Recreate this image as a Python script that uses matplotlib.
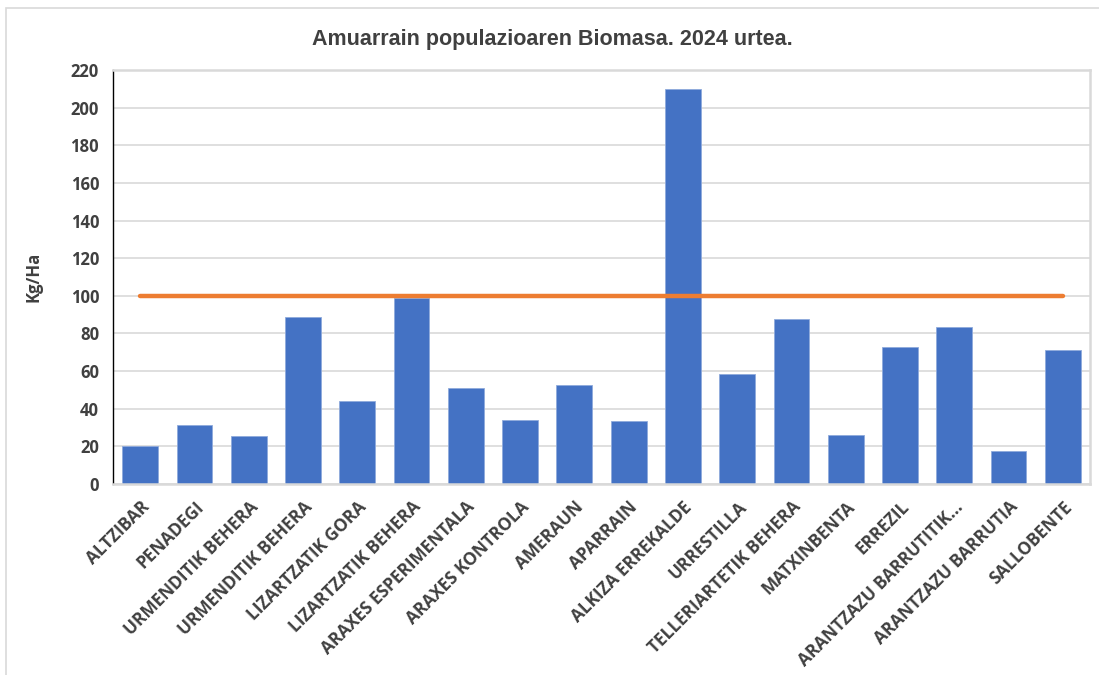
"""
Trout population biomass per sampling site, 2024 (Kg/Ha) with 100 Kg/Ha reference line.
"""

import matplotlib

matplotlib.use("Agg")
import matplotlib.pyplot as plt
from matplotlib.patches import Rectangle
import numpy as np


SITES = [
    "ALTZIBAR", "PENADEGI", "URMENDITIK BEHERA", "URMENDITIK BEHERA",
    "LIZARTZATIK GORA", "LIZARTZATIK BEHERA", "ARAXES ESPERIMENTALA",
    "ARAXES KONTROLA", "AMERAUN", "APARRAIN", "ALKIZA ERREKALDE",
    "URRESTILLA", "TELLERIARTETIK BEHERA", "MATXINBENTA", "ERREZIL",
    "ARANTZAZU BARRUTITIK...", "ARANTZAZU BARRUTIA", "SALLOBENTE",
]
BIOMASS = [20, 31.5, 25.5, 89, 44, 99, 51, 34, 52.6, 33.3, 210,
           58.6, 87.7, 26.3, 73, 83.2, 17.5, 71]
REFERENCE = [100] * len(SITES)
Y_TICKS = list(range(0, 221, 20))

TITLE = "Amuarrain populazioaren Biomasa. 2024 urtea."
Y_LABEL = "Kg/Ha"

BAR_COLOR = "#4472C4"
LINE_COLOR = "#ED7D31"
TEXT_COLOR = "#404040"
GRID_COLOR = "#D9D9D9"


def main():
    fig = plt.figure(figsize=(10.99, 6.75), dpi=100)
    ax = fig.add_axes([113 / 1099, 1 - 484 / 675, (1090 - 113) / 1099, (484 - 70) / 675])

    # outer chart border (cropped on the right and bottom in the original)
    fig.patches.append(Rectangle((5.5 / 1099, -0.02), 1.1, 0.988 + 0.02, transform=fig.transFigure,
                                 fill=False, edgecolor="#D9D9D9", linewidth=1.2))

    x = np.arange(len(SITES))
    ax.bar(x, BIOMASS, width=0.66, color=BAR_COLOR, edgecolor="#8FAADC", linewidth=0.6, zorder=2)
    ax.plot(x, REFERENCE, color=LINE_COLOR, linewidth=3.2, solid_capstyle="round", zorder=3)

    ax.set_xlim(-0.5, len(SITES) - 0.5)
    ax.set_ylim(0, 220)
    ax.set_yticks(Y_TICKS)
    ax.yaxis.grid(True, color=GRID_COLOR, linewidth=1.2, zorder=0)
    ax.set_axisbelow(True)

    for side in ("top", "right", "bottom"):
        ax.spines[side].set_color(GRID_COLOR)
        ax.spines[side].set_linewidth(1.8)
    ax.spines["left"].set_color("black")
    ax.spines["left"].set_linewidth(1.0)

    ax.tick_params(axis="both", length=0, colors=TEXT_COLOR)
    ax.tick_params(axis="y", pad=10)
    ax.set_yticklabels([str(t) for t in Y_TICKS], fontsize=12, fontweight="bold",
                       family="Open Sans", color=TEXT_COLOR)
    ax.set_xticks(x)
    ax.set_xticklabels(SITES, rotation=45, ha="right", rotation_mode="anchor",
                       fontsize=12.4, fontweight="bold", family="Open Sans", color=TEXT_COLOR)
    ax.tick_params(axis="x", pad=10)

    ax.set_ylabel(Y_LABEL, fontsize=12, fontweight="bold", family="Open Sans",
                  color=TEXT_COLOR, labelpad=20)
    fig.text(552 / 1099, 1 - 40 / 675, TITLE, ha="center", va="center", fontsize=15.5,
             fontweight="bold", family="Liberation Sans", color=TEXT_COLOR)

    fig.savefig("out.png", dpi=100)


if __name__ == "__main__":
    main()
